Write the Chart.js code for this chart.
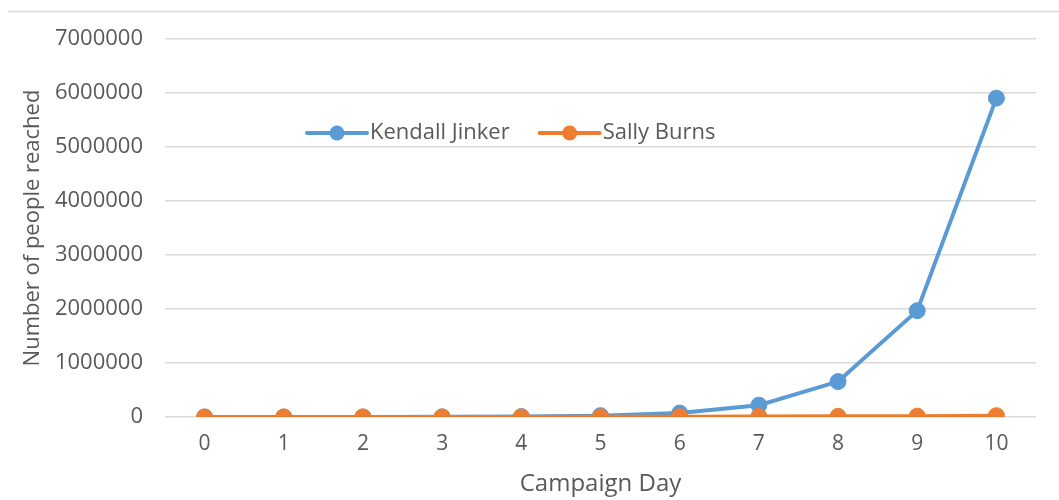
<!DOCTYPE html>
<html>
<head>
<meta charset="utf-8">
<script src="https://cdn.jsdelivr.net/npm/chart.js@4/dist/chart.umd.min.js"></script>
<style>
  html, body { margin: 0; padding: 0; background: #ffffff; }
  #wrap { position: relative; width: 1059px; height: 500px; }
  canvas { display: block; }
</style>
</head>
<body>
<div id="wrap"><canvas id="c" width="1059" height="500"></canvas></div>
<script>
const days = ["0", "1", "2", "3", "4", "5", "6", "7", "8", "9", "10"];
const kendallJinker = [100, 300, 900, 2700, 8100, 24300, 72900, 218700, 656100, 1968300, 5904900];
const sallyBurns = [100, 200, 400, 800, 1600, 3200, 6400, 9000, 12000, 16000, 25000];
const seriesNames = ["Kendall Jinker", "Sally Burns"];
const seriesColors = ["#5B9BD5", "#ED7D31"];
const yTickMax = 7000000;
const yTickStep = 1000000;
const xTitle = "Campaign Day";
const yTitle = "Number of people reached";

const FONT = "'Open Sans', 'Liberation Sans', sans-serif";
const TEXT = "#595959";
const GRID = "#d9d9d9";

const topRule = {
  id: "topRule",
  beforeDraw(chart) {
    const ctx = chart.ctx;
    ctx.save();
    ctx.strokeStyle = GRID;
    ctx.lineWidth = 1.5;
    ctx.beginPath();
    ctx.moveTo(8, 11.5);
    ctx.lineTo(chart.width, 11.5);
    ctx.stroke();
    ctx.restore();
  }
};

const innerLegend = {
  id: "innerLegend",
  afterDraw(chart) {
    const ctx = chart.ctx;
    const area = chart.chartArea;
    ctx.save();
    ctx.font = "22px " + FONT;
    ctx.textBaseline = "middle";
    ctx.textAlign = "left";
    let x = area.left + 142;
    const y = area.top + 94;
    chart.data.datasets.forEach(ds => {
      ctx.strokeStyle = ds.borderColor;
      ctx.lineWidth = 4;
      ctx.lineCap = "round";
      ctx.beginPath();
      ctx.moveTo(x, y);
      ctx.lineTo(x + 60, y);
      ctx.stroke();
      ctx.fillStyle = ds.borderColor;
      ctx.beginPath();
      ctx.arc(x + 30, y, 7.5, 0, Math.PI * 2);
      ctx.fill();
      ctx.fillStyle = TEXT;
      ctx.fillText(ds.label, x + 63, y);
      x += 63 + ctx.measureText(ds.label).width + 30;
    });
    ctx.restore();
  }
};

new Chart(document.getElementById("c"), {
  type: "line",
  data: {
    labels: days,
    datasets: [
      {
        label: seriesNames[0],
        data: kendallJinker,
        borderColor: seriesColors[0],
        backgroundColor: seriesColors[0],
        borderWidth: 4,
        pointRadius: 8,
        pointBorderWidth: 1,
        pointHoverRadius: 8,
        tension: 0,
        order: 1
      },
      {
        label: seriesNames[1],
        data: sallyBurns,
        borderColor: seriesColors[1],
        backgroundColor: seriesColors[1],
        borderWidth: 4,
        pointRadius: 8,
        pointBorderWidth: 1,
        pointHoverRadius: 8,
        tension: 0,
        order: 0
      }
    ]
  },
  options: {
    responsive: false,
    animation: false,
    layout: { padding: { top: 39, right: 23, bottom: 0, left: 0 } },
    plugins: {
      legend: { display: false },
      tooltip: { enabled: false }
    },
    scales: {
      x: {
        type: "category",
        offset: true,
        grid: { display: false, drawTicks: false },
        border: { display: false },
        ticks: { color: TEXT, font: { family: FONT, size: 21 }, padding: 14, maxRotation: 0 },
        title: { display: true, text: xTitle, color: TEXT, font: { family: FONT, size: 24, lineHeight: 1.2 }, padding: { top: 0, bottom: 1 } },
        afterFit(scale) { scale.height = 83; }
      },
      y: {
        min: 0,
        max: yTickMax,
        grid: { color: GRID, lineWidth: 1.5, drawTicks: false },
        border: { display: false },
        ticks: {
          stepSize: yTickStep,
          color: TEXT,
          font: { family: FONT, size: 22 },
          padding: 22,
          callback: v => String(v)
        },
        title: { display: true, text: yTitle, color: TEXT, font: { family: FONT, size: 22, lineHeight: 1.2 }, padding: { top: 20, bottom: 0 } },
        afterFit(scale) { scale.width = 165; }
      }
    }
  },
  plugins: [topRule, innerLegend]
});
</script>
</body>
</html>
